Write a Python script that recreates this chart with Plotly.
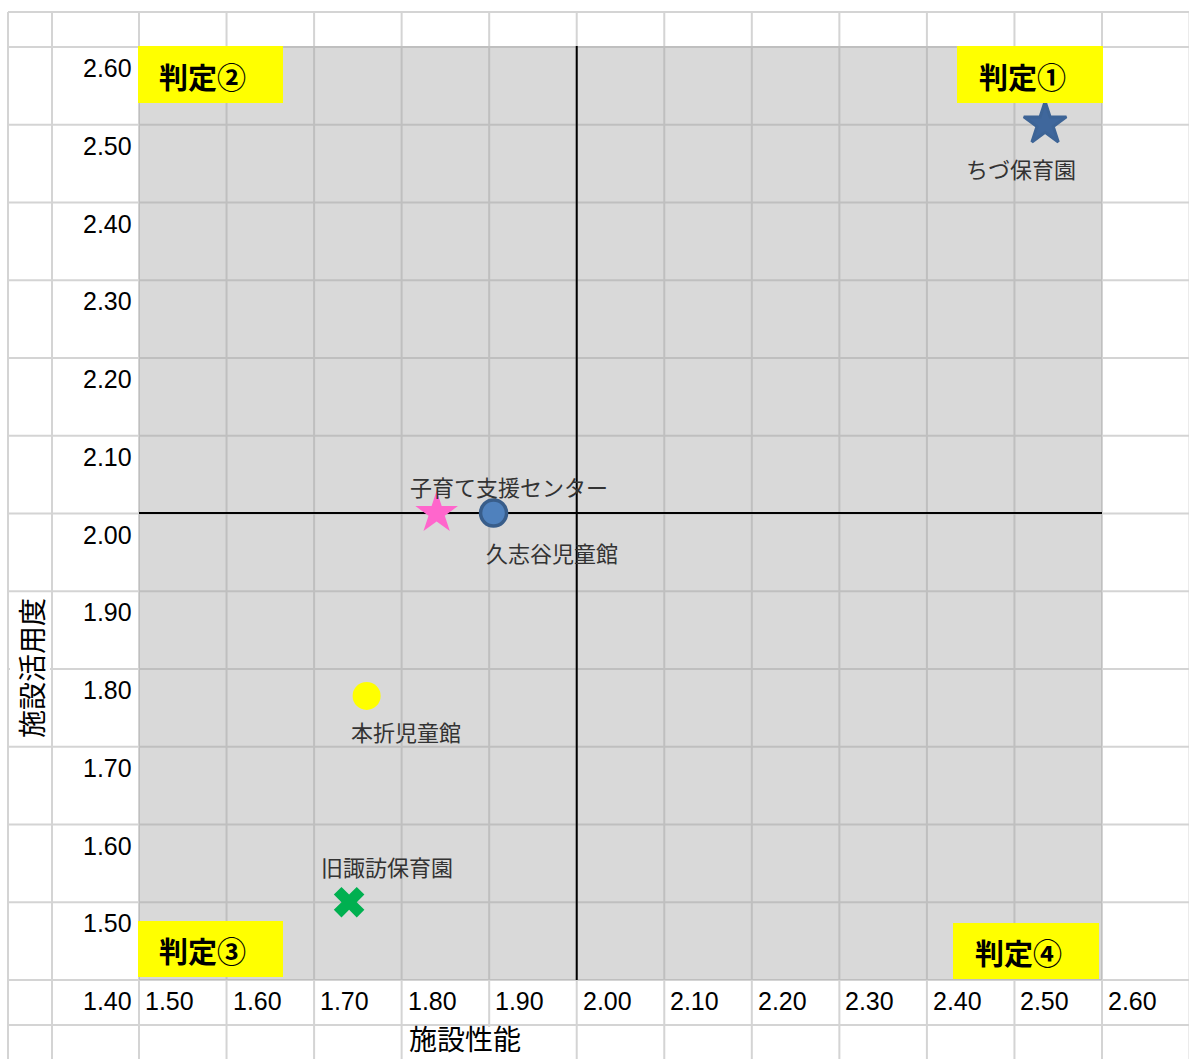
import plotly.graph_objects as go

# ---------------- data ----------------
names = ["ちづ保育園", "子育て支援センター", "久志谷児童館", "本折児童館", "旧諏訪保育園"]
perf = [2.535, 1.84, 1.905, 1.76, 1.74]         # 施設性能 (x)
usage = [2.50, 2.00, 2.00, 1.765, 1.50]         # 施設活用度 (y)
avg_perf = 2.00
avg_usage = 2.00
x_range = [1.5, 2.6]
y_range = [1.4, 2.6]
x_tick_labels = ["1.50", "1.60", "1.70", "1.80", "1.90", "2.00", "2.10",
                 "2.20", "2.30", "2.40", "2.50", "2.60"]
y_tick_labels = ["2.60", "2.50", "2.40", "2.30", "2.20", "2.10", "2.00",
                 "1.90", "1.80", "1.70", "1.60", "1.50", "1.40"]
quadrants = ["判定①", "判定②", "判定③", "判定④"]
x_title = "施設性能"
y_title = "施設活用度"

# ---------------- styles ----------------
symbols = ["star", "star", "circle", "circle", "x"]
sizes = [32, 32, 26, 28, 27]
fills = ["#3f679c", "#ff66cc", "#4f81bd", "#ffff00", "#00b050"]
lines_c = ["#3d6496", "#ff66cc", "#385d8a", "#ffff00", "#00b050"]
lines_w = [3, 0, 3.5, 0, 0]
label_shift = [(-24, -44), (72, 27), (58, -39), (39, -35), (38, 36)]  # (dx, dy up)

W, H = 1189, 1059
PL, PR, PT, PB = 139, 1102, 46, 980


def px(x):
    return x / W


def py(y):
    return 1 - y / H


col_w = (PR - PL) / 11
row_h = (980 - 47) / 12
vlines = [8, 52] + [PL + i * col_w for i in range(13)]
hlines = [12] + [47 + j * row_h for j in range(13)] + [1025]

shapes = []
for x in vlines:
    shapes.append(dict(type="line", xref="paper", yref="paper", x0=px(x), x1=px(x),
                       y0=py(12), y1=py(H + 5), line=dict(color="#d4d4d4", width=2), layer="below"))
for y in hlines:
    shapes.append(dict(type="line", xref="paper", yref="paper", x0=px(8), x1=px(W + 5),
                       y0=py(y), y1=py(y), line=dict(color="#d4d4d4", width=2), layer="below"))
# plot area (translucent gray over the sheet grid)
shapes.append(dict(type="rect", xref="paper", yref="paper", x0=px(PL), x1=px(PR),
                   y0=py(PB), y1=py(PT), fillcolor="rgba(159,159,159,0.395)",
                   line=dict(width=0), layer="below"))
# white boxes behind axis titles
shapes.append(dict(type="rect", xref="paper", yref="paper", x0=px(10), x1=px(50),
                   y0=py(745), y1=py(594), fillcolor="white", line=dict(width=0), layer="below"))
shapes.append(dict(type="rect", xref="paper", yref="paper", x0=px(405), x1=px(526),
                   y0=py(H + 5), y1=py(1027), fillcolor="white", line=dict(width=0), layer="below"))

# yellow quadrant boxes (left, top, right, bottom in px)
qboxes = [(957, 46, 1103, 103), (138, 46, 283, 103), (138, 921, 283, 977), (953, 923, 1099, 979)]
annotations = []
for (x0, y0, x1, y1), t in zip(qboxes, quadrants):
    shapes.append(dict(type="rect", xref="paper", yref="paper", x0=px(x0), x1=px(x1),
                       y0=py(y1), y1=py(y0), fillcolor="#ffff00", line=dict(width=0)))
    annotations.append(dict(xref="paper", yref="paper", x=px((x0 + x1) / 2 - 8),
                            y=py((y0 + y1) / 2 + 1), text="<b>" + t + "</b>", showarrow=False,
                            font=dict(family="Noto Sans CJK JP", size=29, color="black"),
                            xanchor="center", yanchor="middle"))

# sheet-cell tick labels
num_font = dict(family="Liberation Sans, Arial", size=25, color="black")
for i, t in enumerate(y_tick_labels):
    top = 47 + i * row_h
    annotations.append(dict(xref="paper", yref="paper", x=px(134), y=py(top + 21), text=t,
                            showarrow=False, font=num_font, xanchor="right", yanchor="middle"))
for i, t in enumerate(x_tick_labels):
    left = PL + i * col_w
    annotations.append(dict(xref="paper", yref="paper", x=px(left + 4), y=py(1001), text=t,
                            showarrow=False, font=num_font, xanchor="left", yanchor="middle"))

title_font = dict(family="Noto Sans CJK JP", size=28, color="black")
annotations.append(dict(xref="paper", yref="paper", x=px(465), y=0, text=x_title,
                        showarrow=False, font=title_font, xanchor="center", yanchor="bottom",
                        borderpad=0))
annotations.append(dict(xref="paper", yref="paper", x=px(31), y=py(668), text=y_title,
                        showarrow=False, font=title_font, textangle=-90,
                        xanchor="center", yanchor="middle"))

# data labels
for n, x, y, (dx, dy) in zip(names, perf, usage, label_shift):
    annotations.append(dict(xref="x", yref="y", x=x, y=y, text=n, showarrow=False,
                            xshift=dx, yshift=dy,
                            font=dict(family="Noto Sans CJK JP", size=22, color="#333333"),
                            xanchor="center", yanchor="middle"))

fig = go.Figure()
# quadrant dividing lines
fig.add_trace(go.Scatter(x=x_range, y=[avg_usage, avg_usage], mode="lines",
                         line=dict(color="black", width=2), hoverinfo="skip", showlegend=False,
                         cliponaxis=False))
fig.add_trace(go.Scatter(x=[avg_perf, avg_perf], y=y_range, mode="lines",
                         line=dict(color="black", width=2), hoverinfo="skip", showlegend=False,
                         cliponaxis=False))
for i in range(len(names)):
    fig.add_trace(go.Scatter(x=[perf[i]], y=[usage[i]], mode="markers", name=names[i],
                             marker=dict(symbol=symbols[i], size=sizes[i], color=fills[i],
                                         line=dict(color=lines_c[i], width=lines_w[i])),
                             showlegend=False, cliponaxis=False))

fig.update_layout(
    width=W, height=H, margin=dict(l=0, r=0, t=0, b=0),
    paper_bgcolor="white", plot_bgcolor="rgba(0,0,0,0)",
    xaxis=dict(domain=[px(PL), px(PR)], range=x_range, showgrid=False, zeroline=False,
               showticklabels=False, showline=False, fixedrange=True),
    yaxis=dict(domain=[py(PB), py(PT)], range=y_range, showgrid=False, zeroline=False,
               showticklabels=False, showline=False, fixedrange=True),
    shapes=shapes, annotations=annotations, showlegend=False,
)

fig.write_html("out.html", post_script="document.body.style.margin='0';",
               config={"displayModeBar": False})
